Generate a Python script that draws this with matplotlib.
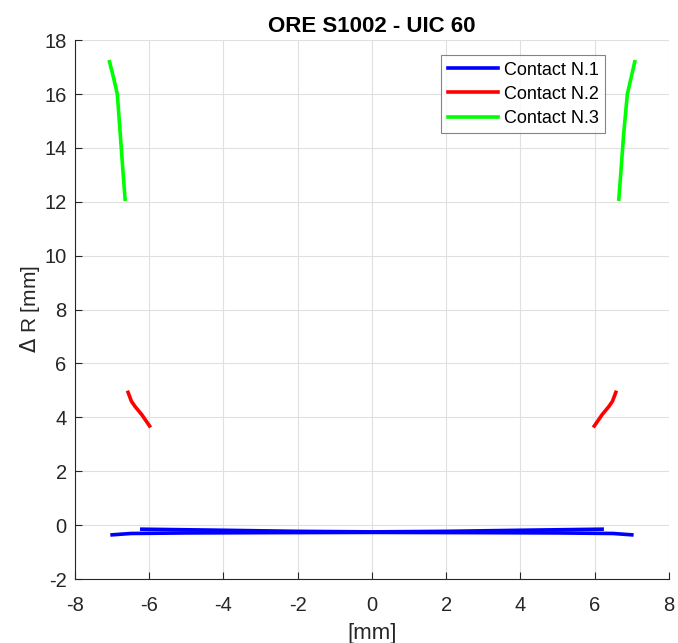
import matplotlib
matplotlib.use("Agg")
import matplotlib.pyplot as plt
import numpy as np

plt.rcParams['font.family'] = ['Liberation Sans', 'DejaVu Sans']
plt.rcParams['axes.unicode_minus'] = False

# Contact N.1 (two nearly flat curves)
c1_outer_x = [-7.0, -6.5, -5.0, -3.0, 0.0, 3.0, 5.0, 6.5, 7.0]
c1_outer_y = [-0.36, -0.31, -0.29, -0.28, -0.27, -0.28, -0.29, -0.31, -0.36]
c1_inner_x = [-6.2, -4.0, -2.0, 0.0, 2.0, 4.0, 6.2]
c1_inner_y = [-0.15, -0.19, -0.23, -0.25, -0.23, -0.19, -0.15]

# Contact N.2 (left and right)
c2_left_x = [-6.57, -6.48, -6.38, -6.2, -5.99]
c2_left_y = [4.93, 4.6, 4.4, 4.1, 3.68]
c2_right_x = [5.99, 6.2, 6.38, 6.48, 6.57]
c2_right_y = [3.68, 4.1, 4.4, 4.6, 4.93]

# Contact N.3 (left and right)
c3_left_x = [-7.07, -6.96, -6.86, -6.78, -6.70, -6.65]
c3_left_y = [17.2, 16.6, 16.0, 14.5, 13.0, 12.1]
c3_right_x = [6.65, 6.70, 6.78, 6.88, 6.98, 7.08]
c3_right_y = [12.1, 13.0, 14.5, 16.0, 16.6, 17.2]

GRIS = (0.15, 0.15, 0.15)

fig = plt.figure(figsize=(6.78, 6.43), dpi=100)
ax = fig.add_axes([0.1106, 0.0995, 0.876, 0.838])

lw = 2.6
ax.plot(c1_outer_x, c1_outer_y, color=(0, 0, 1), lw=lw, label='Contact N.1')
ax.plot(c2_left_x, c2_left_y, color=(1, 0, 0), lw=lw, label='Contact N.2')
ax.plot(c3_left_x, c3_left_y, color=(0, 1, 0), lw=lw, label='Contact N.3')
ax.plot(c1_inner_x, c1_inner_y, color=(0, 0, 1), lw=lw)
ax.plot(c2_right_x, c2_right_y, color=(1, 0, 0), lw=lw)
ax.plot(c3_right_x, c3_right_y, color=(0, 1, 0), lw=lw)

ax.set_xlim(-8, 8)
ax.set_ylim(-2, 18)
ax.set_xticks(np.arange(-8, 9, 2))
ax.set_yticks(np.arange(-2, 19, 2))
ax.grid(True, color=(0.88, 0.88, 0.88), lw=0.8)
ax.set_axisbelow(True)
for s in ['top', 'right']:
    ax.spines[s].set_visible(False)
for s in ['left', 'bottom']:
    ax.spines[s].set_color(GRIS)
    ax.spines[s].set_linewidth(0.8)
ax.tick_params(direction='in', length=5, labelsize=14.5, colors=GRIS,
               labelcolor=GRIS)
ax.tick_params(axis='y', pad=6)
ax.tick_params(axis='x', pad=12)

ax.set_title('ORE S1002 - UIC 60', fontsize=16, fontweight='bold', pad=6)
ax.set_xlabel('[mm]', fontsize=16, color=GRIS, labelpad=6)
ax.set_ylabel(r'$\Delta$ R [mm]', fontsize=15, color=GRIS, labelpad=2)

leg = ax.legend(loc='upper left', bbox_to_anchor=(0.617, 0.972), fontsize=13,
                frameon=True, fancybox=False, edgecolor=(0.4, 0.4, 0.4),
                borderpad=0.35, labelspacing=0.4, handlelength=2.8, handletextpad=0.3,
                borderaxespad=0)
leg.get_frame().set_linewidth(0.8)

fig.savefig('out.png', dpi=100)
